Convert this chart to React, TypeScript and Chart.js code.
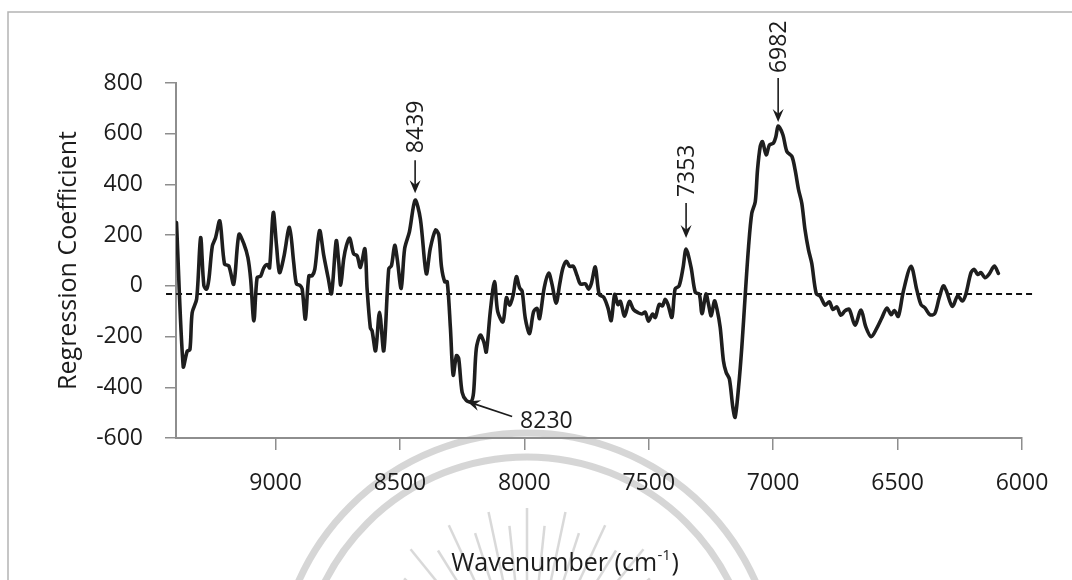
import React, { useEffect, useRef } from "react";
import { Chart, registerables } from "chart.js";

Chart.register(...registerables);

// ---------- data ----------
const wavenumbers = [
  9398, 9371, 9355, 9344, 9335, 9317, 9301, 9288, 9277, 9268, 9254, 9241, 9224, 9205, 9188, 9168,
  9147, 9127, 9111, 9100, 9087, 9074, 9060, 9047, 9033, 9024, 9009, 8996, 8984, 8967, 8944, 8927,
  8916, 8902, 8893, 8880, 8866, 8853, 8842, 8823, 8806, 8788, 8775, 8756, 8746, 8738, 8726, 8715,
  8702, 8686, 8672, 8659, 8641, 8632, 8619, 8612, 8598, 8582, 8565, 8545, 8534, 8521, 8511, 8495,
  8481, 8462, 8439, 8418, 8394, 8378, 8357, 8344, 8333, 8320, 8310, 8297, 8286, 8273, 8264, 8250,
  8233, 8214, 8204, 8193, 8177, 8163, 8153, 8137, 8120, 8107, 8086, 8072, 8059, 8045, 8032, 8019,
  8009, 7996, 7979, 7963, 7949, 7939, 7920, 7902, 7889, 7872, 7858, 7845, 7831, 7818, 7803, 7788,
  7775, 7755, 7742, 7731, 7715, 7699, 7681, 7664, 7651, 7637, 7624, 7614, 7597, 7578, 7561, 7543,
  7527, 7514, 7501, 7485, 7474, 7458, 7445, 7434, 7423, 7407, 7394, 7378, 7362, 7350, 7330, 7313,
  7297, 7286, 7270, 7260, 7249, 7236, 7226, 7213, 7200, 7189, 7176, 7162, 7153, 7139, 7126, 7112,
  7099, 7086, 7072, 7063, 7052, 7043, 7028, 7015, 6999, 6989, 6980, 6961, 6945, 6925, 6912, 6898,
  6885, 6872, 6858, 6845, 6827, 6811, 6791, 6774, 6760, 6744, 6728, 6711, 6694, 6671, 6647, 6628,
  6606, 6584, 6564, 6543, 6526, 6513, 6497, 6477, 6446, 6423, 6406, 6390, 6370, 6351, 6333, 6316,
  6303, 6280, 6258, 6240, 6226, 6205, 6192, 6178, 6165, 6149, 6133, 6111, 6095,
];

const coefficients = [
  250, -318, -258, -251, -106, -52, 190, 1, -13, 25, 157, 190, 256, 86, 79, 7,
  203, 165, 111, 27, -138, 33, 38, 71, 84, 71, 289, 158, 52, 112, 231, 92,
  8, 2, -12, -131, 39, 40, 66, 218, 119, 29, -31, 178, 93, 3, 106, 159,
  188, 126, 119, 73, 146, -11, -165, -177, -256, -104, -256, 67, 80, 160, 107, -10,
  147, 213, 338, 265, 48, 148, 220, 202, 75, 16, 16, -169, -352, -275, -286, -420,
  -452, -457, -420, -247, -194, -221, -261, -102, 17, -102, -142, -47, -76, -36, 36, -8,
  -21, -129, -188, -102, -89, -129, -7, 50, 7, -68, 7, 70, 97, 77, 77, 40,
  7, 8, -13, 8, 74, -34, -45, -87, -137, -34, -74, -61, -120, -61, -94, -106,
  -111, -104, -139, -111, -125, -73, -79, -53, -73, -124, -12, 0, 73, 145, 73, -26,
  -32, -110, -32, -72, -118, -59, -91, -163, -295, -341, -367, -480, -518, -399, -242, -31,
  154, 286, 332, 457, 550, 569, 517, 556, 563, 589, 630, 596, 530, 511, 458, 379,
  326, 221, 142, 89, -30, -41, -76, -63, -93, -83, -116, -98, -93, -155, -95, -161,
  -201, -168, -128, -88, -114, -97, -120, -22, 77, -15, -74, -87, -114, -110, -48, 0,
  -22, -81, -39, -60, -34, 52, 65, 45, 52, 32, 45, 78, 49,
];

const xTickValues = [9000, 8500, 8000, 7500, 7000, 6500, 6000];
const yTickValues = [-600, -400, -200, 0, 200, 400, 600, 800];

const baselineLevel = -32;
const baselineWavenumbers = [9440, 5956];

const peakLabels = ["8439", "7353", "6982"];
const peakWavenumbers = [8439, 7350, 6980];
const peakValues = [338, 145, 630];

const troughLabel = "8230";
const troughWavenumber = 8230;
const troughValue = -452;

// ---------- styling ----------
const FONT = '"Open Sans", "Noto Sans", sans-serif';
const TEXT = "#1c1c1c";
const AXIS = "#8e8e8e";
const peakTipGap = [7, 11, 4];
const peakArrowLen = [33, 35, 44];
const peakTextGap = [7, 6, 5];

function arrowHead(ctx: CanvasRenderingContext2D, x: number, y: number, angle: number) {
  const len = 13;
  const half = 5.5;
  ctx.save();
  ctx.translate(x, y);
  ctx.rotate(angle);
  ctx.beginPath();
  ctx.moveTo(0, 0);
  ctx.lineTo(-len, -half);
  ctx.lineTo(-len * 0.65, 0);
  ctx.lineTo(-len, half);
  ctx.closePath();
  ctx.fill();
  ctx.restore();
}

const decorPlugin = {
  id: "decor",
  beforeDraw(chart: any) {
    const ctx: CanvasRenderingContext2D = chart.ctx;
    ctx.save();
    ctx.fillStyle = "#ffffff";
    ctx.fillRect(0, 0, chart.width, chart.height);
    // faint watermark behind the figure
    const cx = 527;
    const cy = 683;
    ctx.strokeStyle = "rgba(180,180,180,0.55)";
    ctx.lineWidth = 7;
    ctx.beginPath();
    ctx.arc(cx, cy, 250, Math.PI, 2 * Math.PI);
    ctx.stroke();
    ctx.beginPath();
    ctx.arc(cx, cy, 226, Math.PI, 2 * Math.PI);
    ctx.stroke();
    ctx.lineWidth = 2.5;
    ctx.strokeStyle = "rgba(180,180,180,0.5)";
    const rayAngles = [-145, -137, -129, -122, -115, -108, -102, -96, -90, -84, -78, -72, -65, -58, -51, -43, -35];
    rayAngles.forEach((deg, i) => {
      const a = (deg * Math.PI) / 180;
      const r1 = 100;
      const r2 = i % 2 === 0 ? 185 : 168;
      ctx.beginPath();
      ctx.moveTo(cx + r1 * Math.cos(a), cy + 10 + r1 * Math.sin(a));
      ctx.lineTo(cx + r2 * Math.cos(a), cy + 10 + r2 * Math.sin(a));
      ctx.stroke();
    });
    // frame of the scanned figure
    ctx.strokeStyle = "#b4b4b4";
    ctx.lineWidth = 1.5;
    ctx.beginPath();
    ctx.moveTo(8, 580);
    ctx.lineTo(8, 12);
    ctx.lineTo(1072, 12);
    ctx.stroke();
    ctx.restore();
  },
  afterDatasetsDraw(chart: any) {
    const ctx: CanvasRenderingContext2D = chart.ctx;
    const xs = chart.scales.x;
    const ys = chart.scales.y;
    ctx.save();
    ctx.fillStyle = TEXT;
    ctx.strokeStyle = TEXT;
    ctx.lineWidth = 1.6;
    ctx.font = `23px ${FONT}`;

    peakLabels.forEach((label, i) => {
      const px = xs.getPixelForValue(peakWavenumbers[i]);
      const tipY = ys.getPixelForValue(peakValues[i]) - peakTipGap[i];
      const topY = tipY - peakArrowLen[i];
      ctx.beginPath();
      ctx.moveTo(px, topY);
      ctx.lineTo(px, tipY - 6);
      ctx.stroke();
      arrowHead(ctx, px, tipY, Math.PI / 2);
      ctx.save();
      ctx.translate(px + 1, topY - peakTextGap[i]);
      ctx.rotate(-Math.PI / 2);
      ctx.textAlign = "left";
      ctx.textBaseline = "middle";
      ctx.fillText(label, 0, 0);
      ctx.restore();
    });

    // trough annotation
    const tx = xs.getPixelForValue(troughWavenumber);
    const ty = ys.getPixelForValue(troughValue) + 1;
    const tailX = tx + 45;
    const tailY = ty + 15;
    const ang = Math.atan2(ty - tailY, tx - tailX);
    ctx.beginPath();
    ctx.moveTo(tailX, tailY);
    ctx.lineTo(tx - 6 * Math.cos(ang), ty - 6 * Math.sin(ang));
    ctx.stroke();
    arrowHead(ctx, tx, ty, ang);
    ctx.textAlign = "left";
    ctx.textBaseline = "middle";
    ctx.fillText(troughLabel, tailX + 8, tailY + 5);

    // x-axis title with superscript
    const mainFont = `25px ${FONT}`;
    const supFont = `15px ${FONT}`;
    const p1 = "Wavenumber (cm";
    const p2 = "-1";
    const p3 = ")";
    ctx.font = mainFont;
    const w1 = ctx.measureText(p1).width;
    const w3 = ctx.measureText(p3).width;
    ctx.font = supFont;
    const w2 = ctx.measureText(p2).width;
    const total = w1 + w2 + w3 + 1;
    let x0 = 565 - total / 2;
    const base = 571;
    ctx.textBaseline = "alphabetic";
    ctx.font = mainFont;
    ctx.fillText(p1, x0, base);
    x0 += w1 + 0.5;
    ctx.font = supFont;
    ctx.fillText(p2, x0, base - 11);
    x0 += w2 + 0.5;
    ctx.font = mainFont;
    ctx.fillText(p3, x0, base);
    ctx.restore();
  },
};

export default function App() {
  const canvasRef = useRef<HTMLCanvasElement>(null);

  useEffect(() => {
    if (!canvasRef.current) return;
    const curve = wavenumbers.map((w, i) => ({ x: w, y: coefficients[i] }));
    const baseline = baselineWavenumbers.map((w) => ({ x: w, y: baselineLevel }));
    const chart = new Chart(canvasRef.current, {
      type: "line",
      data: {
        datasets: [
          {
            data: curve,
            borderColor: "#1e1e1e",
            borderWidth: 3.6,
            pointRadius: 0,
            tension: 0.3,
            borderJoinStyle: "round",
            borderCapStyle: "round",
            fill: false,
            order: 0,
          },
          {
            data: baseline,
            borderColor: "#111111",
            borderWidth: 2,
            borderDash: [6, 4],
            pointRadius: 0,
            tension: 0,
            fill: false,
            clip: false,
            order: 1,
          },
        ],
      },
      options: {
        animation: false,
        responsive: false,
        maintainAspectRatio: false,
        events: [],
        layout: { padding: { top: 83, right: 50, bottom: 0, left: 0 } },
        plugins: {
          legend: { display: false },
          tooltip: { enabled: false },
        },
        scales: {
          x: {
            type: "linear",
            position: "bottom",
            reverse: true,
            min: 6000,
            max: 9400,
            afterBuildTicks: (s: any) => {
              s.ticks = xTickValues.map((value) => ({ value }));
            },
            afterFit: (s: any) => {
              s.height = 142;
            },
            ticks: {
              autoSkip: false,
              maxRotation: 0,
              padding: 20,
              color: TEXT,
              font: { family: FONT, size: 23 },
              callback: (v: any) => String(v),
            },
            grid: {
              drawOnChartArea: false,
              drawTicks: true,
              tickLength: 12,
              color: AXIS,
              lineWidth: 1.5,
            },
            border: { display: true, color: AXIS, width: 2 },
          },
          y: {
            type: "linear",
            min: -600,
            max: 800,
            afterBuildTicks: (s: any) => {
              s.ticks = yTickValues.map((value) => ({ value }));
            },
            afterFit: (s: any) => {
              s.width = 176;
            },
            ticks: {
              padding: 22,
              color: TEXT,
              font: { family: FONT, size: 23 },
              callback: (v: any) => String(v),
            },
            grid: {
              drawOnChartArea: false,
              drawTicks: true,
              tickLength: 11,
              color: AXIS,
              lineWidth: 1.5,
            },
            border: { display: true, color: AXIS, width: 2 },
            title: {
              display: true,
              text: "Regression Coefficient",
              color: TEXT,
              font: { family: FONT, size: 25 },
              padding: { top: 54, bottom: 0 },
            },
          },
        },
      },
      plugins: [decorPlugin],
    } as any);
    return () => chart.destroy();
  }, []);

  return (
    <div style={{ position: "fixed", left: 0, top: 0, width: 1072, height: 580, background: "#fff" }}>
      <canvas ref={canvasRef} width={1072} height={580} style={{ display: "block" }} />
    </div>
  );
}
